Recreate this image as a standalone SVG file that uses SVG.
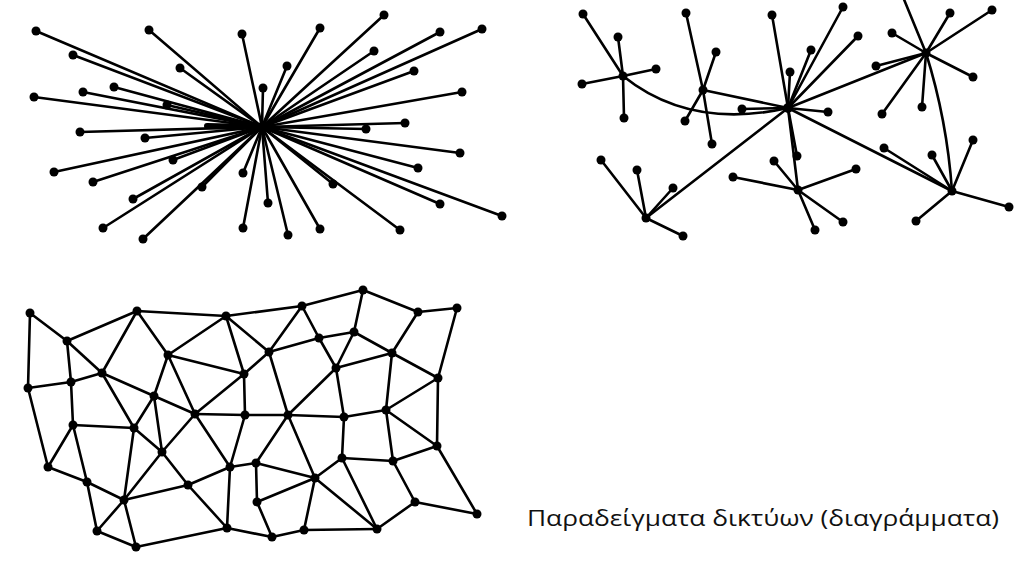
<svg xmlns="http://www.w3.org/2000/svg" width="1022" height="563" viewBox="0 0 1022 563">
<style>
.e{stroke:#000;stroke-width:2.6;fill:none;stroke-linecap:round}
.n circle{fill:#000}
.t{font-family:"Open Sans","Noto Sans","DejaVu Sans",sans-serif;font-size:22px;fill:#111}
</style>
<rect width="1022" height="563" fill="#fff"/>
<g id="connectors" class="e">
<g id="central-edges">
<line x1="262" y1="127" x2="36" y2="31"/><line x1="262" y1="127" x2="149" y2="30"/><line x1="262" y1="127" x2="242" y2="34"/>
<line x1="262" y1="127" x2="73" y2="55"/><line x1="262" y1="127" x2="180" y2="68"/><line x1="262" y1="127" x2="263" y2="88"/>
<line x1="262" y1="127" x2="34" y2="97"/><line x1="262" y1="127" x2="83" y2="92"/><line x1="262" y1="127" x2="114" y2="87"/>
<line x1="262" y1="127" x2="167" y2="105"/><line x1="262" y1="127" x2="80" y2="132"/><line x1="262" y1="127" x2="384" y2="15"/>
<line x1="262" y1="127" x2="320" y2="28"/><line x1="262" y1="127" x2="440" y2="32"/><line x1="262" y1="127" x2="482" y2="29"/>
<line x1="262" y1="127" x2="374" y2="51"/><line x1="262" y1="127" x2="287" y2="66"/><line x1="262" y1="127" x2="414" y2="71"/>
<line x1="262" y1="127" x2="462" y2="92"/><line x1="262" y1="127" x2="405" y2="123"/><line x1="262" y1="127" x2="366" y2="129"/>
<line x1="262" y1="127" x2="145" y2="138"/><line x1="262" y1="127" x2="54" y2="172"/><line x1="262" y1="127" x2="173" y2="160"/>
<line x1="262" y1="127" x2="93" y2="182"/><line x1="262" y1="127" x2="202" y2="187"/><line x1="262" y1="127" x2="243" y2="173"/>
<line x1="262" y1="127" x2="133" y2="199"/><line x1="262" y1="127" x2="268" y2="203"/><line x1="262" y1="127" x2="103" y2="228"/>
<line x1="262" y1="127" x2="243" y2="228"/><line x1="262" y1="127" x2="143" y2="239"/><line x1="262" y1="127" x2="460" y2="153"/>
<line x1="262" y1="127" x2="418" y2="168"/><line x1="262" y1="127" x2="333" y2="184"/><line x1="262" y1="127" x2="440" y2="204"/>
<line x1="262" y1="127" x2="502" y2="216"/><line x1="262" y1="127" x2="400" y2="230"/><line x1="262" y1="127" x2="320" y2="229"/>
<line x1="262" y1="127" x2="288" y2="235"/>
<line x1="207" y1="126" x2="255" y2="127" stroke-width="6"/>
</g>
<g id="decentral-edges">
<line x1="623" y1="76" x2="583" y2="14"/><line x1="623" y1="76" x2="618" y2="37"/><line x1="623" y1="76" x2="656" y2="69"/>
<line x1="623" y1="76" x2="582" y2="84"/><line x1="623" y1="76" x2="624" y2="118"/>
<path d="M623,76 Q690,130 788,108"/>
<line x1="703" y1="90" x2="686" y2="13"/><line x1="703" y1="90" x2="716" y2="52"/><line x1="703" y1="90" x2="685" y2="121"/>
<line x1="703" y1="90" x2="712" y2="144"/><line x1="703" y1="90" x2="788" y2="108"/>
<line x1="788" y1="108" x2="772" y2="15"/><line x1="788" y1="108" x2="790" y2="72"/><line x1="788" y1="108" x2="843" y2="7"/>
<line x1="788" y1="108" x2="858" y2="36"/><line x1="788" y1="108" x2="811" y2="50"/><line x1="788" y1="108" x2="828" y2="112"/>
<line x1="788" y1="108" x2="742" y2="109"/><line x1="788" y1="108" x2="926" y2="53"/><line x1="788" y1="108" x2="952" y2="191"/>
<line x1="788" y1="108" x2="646" y2="218"/><line x1="788" y1="108" x2="798" y2="190"/><line x1="788" y1="108" x2="797" y2="156"/>
<line x1="926" y1="53" x2="892" y2="33"/><line x1="926" y1="53" x2="950" y2="13"/><line x1="926" y1="53" x2="992" y2="10"/>
<line x1="926" y1="53" x2="973" y2="77"/><line x1="926" y1="53" x2="882" y2="114"/><line x1="926" y1="53" x2="922" y2="107"/>
<line x1="926" y1="53" x2="876" y2="66"/><line x1="926" y1="53" x2="903" y2="-3"/>
<path d="M926,53 Q947,120 952,191"/>
<line x1="952" y1="191" x2="884" y2="148"/><line x1="952" y1="191" x2="932" y2="155"/><line x1="952" y1="191" x2="973" y2="140"/>
<line x1="952" y1="191" x2="1009" y2="207"/><line x1="952" y1="191" x2="916" y2="221"/>
<line x1="646" y1="218" x2="601" y2="160"/><line x1="646" y1="218" x2="637" y2="170"/><line x1="646" y1="218" x2="673" y2="188"/>
<line x1="646" y1="218" x2="683" y2="236"/>
<line x1="798" y1="190" x2="856" y2="169"/><line x1="798" y1="190" x2="843" y2="222"/><line x1="798" y1="190" x2="815" y2="230"/>
<line x1="798" y1="190" x2="733" y2="177"/><line x1="798" y1="190" x2="774" y2="161"/>
</g>
<g id="distributed-edges">
<line x1="30" y1="313" x2="28" y2="388"/><line x1="30" y1="313" x2="67" y2="341"/><line x1="67" y1="341" x2="137" y2="311"/>
<line x1="67" y1="341" x2="102" y2="373"/><line x1="67" y1="341" x2="71" y2="382"/><line x1="28" y1="388" x2="71" y2="382"/>
<line x1="71" y1="382" x2="102" y2="373"/><line x1="137" y1="311" x2="102" y2="373"/><line x1="137" y1="311" x2="168" y2="355"/>
<line x1="137" y1="311" x2="226" y2="316"/><line x1="226" y1="316" x2="168" y2="355"/><line x1="226" y1="316" x2="244" y2="374"/>
<line x1="226" y1="316" x2="302" y2="306"/><line x1="226" y1="316" x2="269" y2="352"/><line x1="168" y1="355" x2="244" y2="374"/>
<line x1="102" y1="373" x2="154" y2="396"/><line x1="154" y1="396" x2="195" y2="414"/><line x1="168" y1="355" x2="154" y2="396"/>
<line x1="102" y1="373" x2="134" y2="428"/><line x1="154" y1="396" x2="134" y2="428"/><line x1="154" y1="396" x2="162" y2="452"/><line x1="168" y1="355" x2="195" y2="414"/>
<line x1="244" y1="374" x2="195" y2="414"/><line x1="244" y1="374" x2="245" y2="415"/><line x1="244" y1="374" x2="269" y2="352"/>
<line x1="195" y1="414" x2="245" y2="415"/>
<line x1="302" y1="306" x2="363" y2="290"/><line x1="302" y1="306" x2="269" y2="352"/><line x1="302" y1="306" x2="319" y2="338"/>
<line x1="363" y1="290" x2="418" y2="312"/><line x1="363" y1="290" x2="354" y2="332"/><line x1="418" y1="312" x2="457" y2="308"/>
<line x1="418" y1="312" x2="392" y2="353"/><line x1="457" y1="308" x2="438" y2="378"/>
<line x1="319" y1="338" x2="354" y2="332"/><line x1="319" y1="338" x2="269" y2="352"/><line x1="319" y1="338" x2="336" y2="368"/>
<line x1="354" y1="332" x2="392" y2="353"/><line x1="354" y1="332" x2="336" y2="368"/>
<line x1="392" y1="353" x2="336" y2="368"/><line x1="392" y1="353" x2="438" y2="378"/><line x1="392" y1="353" x2="386" y2="410"/>
<line x1="269" y1="352" x2="288" y2="415"/><line x1="336" y1="368" x2="288" y2="415"/><line x1="336" y1="368" x2="344" y2="417"/>
<line x1="438" y1="378" x2="386" y2="410"/><line x1="438" y1="378" x2="437" y2="446"/>
<line x1="245" y1="415" x2="288" y2="415"/><line x1="288" y1="415" x2="344" y2="417"/><line x1="344" y1="417" x2="386" y2="410"/>
<line x1="288" y1="415" x2="315" y2="478"/><line x1="288" y1="415" x2="256" y2="463"/><line x1="344" y1="417" x2="342" y2="458"/>
<line x1="386" y1="410" x2="393" y2="461"/><line x1="386" y1="410" x2="437" y2="446"/>
<line x1="437" y1="446" x2="393" y2="461"/><line x1="437" y1="446" x2="477" y2="514"/>
<line x1="342" y1="458" x2="393" y2="461"/><line x1="342" y1="458" x2="315" y2="478"/><line x1="342" y1="458" x2="377" y2="529"/>
<line x1="393" y1="461" x2="415" y2="502"/><line x1="315" y1="478" x2="377" y2="529"/><line x1="315" y1="478" x2="256" y2="463"/>
<line x1="315" y1="478" x2="257" y2="502"/><line x1="315" y1="478" x2="304" y2="530"/><line x1="256" y1="463" x2="257" y2="502"/>
<line x1="257" y1="502" x2="272" y2="537"/><line x1="272" y1="537" x2="304" y2="530"/><line x1="304" y1="530" x2="377" y2="529"/>
<line x1="377" y1="529" x2="415" y2="502"/><line x1="415" y1="502" x2="477" y2="514"/>
<line x1="28" y1="388" x2="48" y2="467"/><line x1="71" y1="382" x2="73" y2="425"/><line x1="73" y1="425" x2="134" y2="428"/>
<line x1="73" y1="425" x2="48" y2="467"/><line x1="73" y1="425" x2="87" y2="482"/><line x1="134" y1="428" x2="162" y2="452"/>
<line x1="134" y1="428" x2="124" y2="500"/><line x1="162" y1="452" x2="124" y2="500"/><line x1="162" y1="452" x2="188" y2="485"/>
<line x1="195" y1="414" x2="162" y2="452"/><line x1="48" y1="467" x2="87" y2="482"/><line x1="87" y1="482" x2="124" y2="500"/>
<line x1="87" y1="482" x2="97" y2="531"/><line x1="188" y1="485" x2="124" y2="500"/><line x1="188" y1="485" x2="230" y2="467"/>
<line x1="188" y1="485" x2="227" y2="528"/><line x1="124" y1="500" x2="97" y2="531"/><line x1="124" y1="500" x2="136" y2="547"/>
<line x1="97" y1="531" x2="136" y2="547"/><line x1="136" y1="547" x2="227" y2="528"/><line x1="195" y1="414" x2="230" y2="467"/>
<line x1="245" y1="415" x2="230" y2="467"/><line x1="230" y1="467" x2="227" y2="528"/><line x1="230" y1="467" x2="256" y2="463"/>
<line x1="227" y1="528" x2="272" y2="537"/>
</g>
</g>
<g id="nodes" class="n">
<g id="central-nodes">
<g id="c-hub"><circle cx="262" cy="127" r="5"/></g>
<g id="c1"><circle cx="36" cy="31" r="4.5"/></g><g id="c2"><circle cx="149" cy="30" r="4.5"/></g><g id="c3"><circle cx="242" cy="34" r="4.5"/></g>
<g id="c4"><circle cx="73" cy="55" r="4.5"/></g><g id="c5"><circle cx="180" cy="68" r="4.5"/></g><g id="c6"><circle cx="263" cy="88" r="4.5"/></g>
<g id="c7"><circle cx="34" cy="97" r="4.5"/></g><g id="c8"><circle cx="83" cy="92" r="4.5"/></g><g id="c9"><circle cx="114" cy="87" r="4.5"/></g>
<g id="c10"><circle cx="167" cy="105" r="4.5"/></g><g id="c11"><circle cx="80" cy="132" r="4.5"/></g><g id="c12"><circle cx="384" cy="15" r="4.5"/></g>
<g id="c13"><circle cx="320" cy="28" r="4.5"/></g><g id="c14"><circle cx="440" cy="32" r="4.5"/></g><g id="c15"><circle cx="482" cy="29" r="4.5"/></g>
<g id="c16"><circle cx="374" cy="51" r="4.5"/></g><g id="c17"><circle cx="287" cy="66" r="4.5"/></g><g id="c18"><circle cx="414" cy="71" r="4.5"/></g>
<g id="c19"><circle cx="462" cy="92" r="4.5"/></g><g id="c20"><circle cx="405" cy="123" r="4.5"/></g><g id="c21"><circle cx="366" cy="129" r="4.5"/></g>
<g id="c22"><circle cx="145" cy="138" r="4.5"/></g><g id="c23"><circle cx="54" cy="172" r="4.5"/></g><g id="c24"><circle cx="173" cy="160" r="4.5"/></g>
<g id="c25"><circle cx="93" cy="182" r="4.5"/></g><g id="c26"><circle cx="202" cy="187" r="4.5"/></g><g id="c27"><circle cx="243" cy="173" r="4.5"/></g>
<g id="c28"><circle cx="133" cy="199" r="4.5"/></g><g id="c29"><circle cx="268" cy="203" r="4.5"/></g><g id="c30"><circle cx="103" cy="228" r="4.5"/></g>
<g id="c31"><circle cx="243" cy="228" r="4.5"/></g><g id="c32"><circle cx="143" cy="239" r="4.5"/></g><g id="c33"><circle cx="460" cy="153" r="4.5"/></g>
<g id="c34"><circle cx="418" cy="168" r="4.5"/></g><g id="c35"><circle cx="333" cy="184" r="4.5"/></g><g id="c36"><circle cx="440" cy="204" r="4.5"/></g>
<g id="c37"><circle cx="502" cy="216" r="4.5"/></g><g id="c38"><circle cx="400" cy="230" r="4.5"/></g><g id="c39"><circle cx="320" cy="229" r="4.5"/></g>
<g id="c40"><circle cx="288" cy="235" r="4.5"/></g>
</g>
<g id="decentral-nodes">
<g id="hA"><circle cx="623" cy="76" r="4.5"/></g><g id="hB"><circle cx="703" cy="90" r="4.5"/></g><g id="hC"><circle cx="788" cy="108" r="5"/></g>
<g id="hD"><circle cx="926" cy="53" r="4.5"/></g><g id="hE"><circle cx="952" cy="191" r="4.5"/></g><g id="hF"><circle cx="646" cy="218" r="4.5"/></g>
<g id="hG"><circle cx="798" cy="190" r="4.5"/></g>
<g id="d1"><circle cx="583" cy="14" r="4.5"/></g><g id="d2"><circle cx="618" cy="37" r="4.5"/></g><g id="d3"><circle cx="656" cy="69" r="4.5"/></g>
<g id="d4"><circle cx="582" cy="84" r="4.5"/></g><g id="d5"><circle cx="624" cy="118" r="4.5"/></g><g id="d6"><circle cx="686" cy="13" r="4.5"/></g>
<g id="d7"><circle cx="716" cy="52" r="4.5"/></g><g id="d8"><circle cx="685" cy="121" r="4.5"/></g><g id="d9"><circle cx="712" cy="144" r="4.5"/></g>
<g id="d10"><circle cx="772" cy="15" r="4.5"/></g><g id="d11"><circle cx="790" cy="72" r="4.5"/></g><g id="d12"><circle cx="843" cy="7" r="4.5"/></g>
<g id="d13"><circle cx="858" cy="36" r="4.5"/></g><g id="d14"><circle cx="811" cy="50" r="4.5"/></g><g id="d15"><circle cx="828" cy="112" r="4.5"/></g>
<g id="d16"><circle cx="742" cy="109" r="4.5"/></g><g id="d17"><circle cx="797" cy="156" r="4.5"/></g>
<g id="d18"><circle cx="892" cy="33" r="4.5"/></g><g id="d19"><circle cx="950" cy="13" r="4.5"/></g><g id="d20"><circle cx="992" cy="10" r="4.5"/></g>
<g id="d21"><circle cx="973" cy="77" r="4.5"/></g><g id="d22"><circle cx="882" cy="114" r="4.5"/></g><g id="d23"><circle cx="922" cy="107" r="4.5"/></g>
<g id="d24"><circle cx="876" cy="66" r="4.5"/></g>
<g id="d25"><circle cx="884" cy="148" r="4.5"/></g><g id="d26"><circle cx="932" cy="155" r="4.5"/></g><g id="d27"><circle cx="973" cy="140" r="4.5"/></g>
<g id="d28"><circle cx="1009" cy="207" r="4.5"/></g><g id="d29"><circle cx="916" cy="221" r="4.5"/></g>
<g id="d30"><circle cx="601" cy="160" r="4.5"/></g><g id="d31"><circle cx="637" cy="170" r="4.5"/></g><g id="d32"><circle cx="673" cy="188" r="4.5"/></g>
<g id="d33"><circle cx="683" cy="236" r="4.5"/></g>
<g id="d34"><circle cx="856" cy="169" r="4.5"/></g><g id="d35"><circle cx="843" cy="222" r="4.5"/></g><g id="d36"><circle cx="815" cy="230" r="4.5"/></g>
<g id="d37"><circle cx="733" cy="177" r="4.5"/></g><g id="d38"><circle cx="774" cy="161" r="4.5"/></g>
</g>
<g id="distributed-nodes">
<g id="m1"><circle cx="30" cy="313" r="4.5"/></g><g id="m2"><circle cx="137" cy="311" r="4.5"/></g><g id="m3"><circle cx="226" cy="316" r="4.5"/></g>
<g id="m4"><circle cx="302" cy="306" r="4.5"/></g><g id="m5"><circle cx="363" cy="290" r="4.5"/></g><g id="m6"><circle cx="418" cy="312" r="4.5"/></g>
<g id="m7"><circle cx="457" cy="308" r="4.5"/></g><g id="m8"><circle cx="67" cy="341" r="4.5"/></g><g id="m9"><circle cx="168" cy="355" r="4.5"/></g>
<g id="m10"><circle cx="102" cy="373" r="4.5"/></g><g id="m11"><circle cx="28" cy="388" r="4.5"/></g><g id="m12"><circle cx="71" cy="382" r="4.5"/></g>
<g id="m13"><circle cx="154" cy="396" r="4.5"/></g><g id="m14"><circle cx="244" cy="374" r="4.5"/></g><g id="m15"><circle cx="195" cy="414" r="4.5"/></g>
<g id="m16"><circle cx="245" cy="415" r="4.5"/></g><g id="m17"><circle cx="319" cy="338" r="4.5"/></g><g id="m18"><circle cx="354" cy="332" r="4.5"/></g>
<g id="m19"><circle cx="269" cy="352" r="4.5"/></g><g id="m20"><circle cx="392" cy="353" r="4.5"/></g><g id="m21"><circle cx="336" cy="368" r="4.5"/></g>
<g id="m22"><circle cx="438" cy="378" r="4.5"/></g><g id="m23"><circle cx="288" cy="415" r="4.5"/></g><g id="m24"><circle cx="344" cy="417" r="4.5"/></g>
<g id="m25"><circle cx="386" cy="410" r="4.5"/></g><g id="m26"><circle cx="73" cy="425" r="4.5"/></g><g id="m27"><circle cx="134" cy="428" r="4.5"/></g>
<g id="m28"><circle cx="162" cy="452" r="4.5"/></g><g id="m29"><circle cx="48" cy="467" r="4.5"/></g><g id="m30"><circle cx="87" cy="482" r="4.5"/></g>
<g id="m31"><circle cx="188" cy="485" r="4.5"/></g><g id="m32"><circle cx="230" cy="467" r="4.5"/></g><g id="m33"><circle cx="124" cy="500" r="4.5"/></g>
<g id="m34"><circle cx="97" cy="531" r="4.5"/></g><g id="m35"><circle cx="136" cy="547" r="4.5"/></g><g id="m36"><circle cx="227" cy="528" r="4.5"/></g>
<g id="m37"><circle cx="437" cy="446" r="4.5"/></g><g id="m38"><circle cx="342" cy="458" r="4.5"/></g><g id="m39"><circle cx="393" cy="461" r="4.5"/></g>
<g id="m40"><circle cx="315" cy="478" r="4.5"/></g><g id="m41"><circle cx="256" cy="463" r="4.5"/></g><g id="m42"><circle cx="415" cy="502" r="4.5"/></g>
<g id="m43"><circle cx="477" cy="514" r="4.5"/></g><g id="m44"><circle cx="272" cy="537" r="4.5"/></g><g id="m45"><circle cx="304" cy="530" r="4.5"/></g>
<g id="m46"><circle cx="377" cy="529" r="4.5"/></g><g id="m47"><circle cx="257" cy="502" r="4.5"/></g>
</g>
</g>
<text class="t" x="527" y="526" textLength="472" lengthAdjust="spacingAndGlyphs">Παραδείγματα δικτύων (διαγράμματα)</text>
</svg>
